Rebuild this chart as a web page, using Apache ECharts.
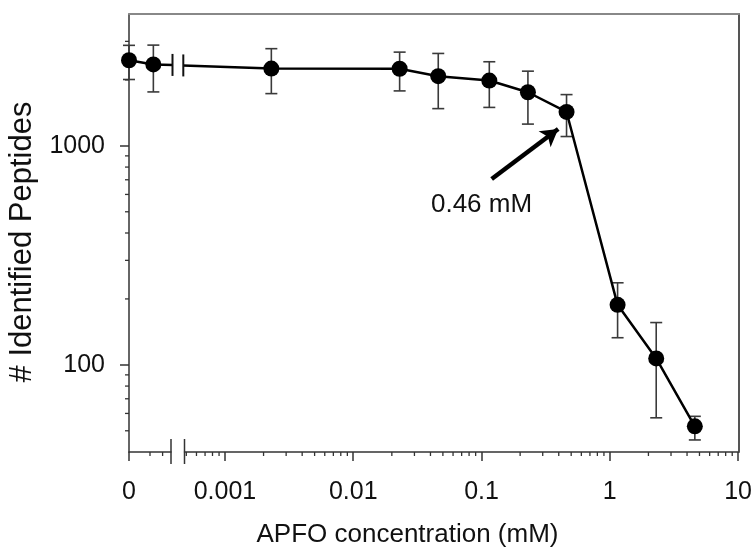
<!DOCTYPE html>
<html><head><meta charset="utf-8">
<script src="https://cdn.jsdelivr.net/npm/echarts@6/dist/echarts.min.js"></script>
<style>html,body{margin:0;padding:0;background:#fff}#c{width:755px;height:553px}</style>
</head><body><div id="c"></div>
<script>
// ---- data ----
// points placed on the linear "zero" segment left of the axis break
const zeroSegX = [0, 0.00029];
const zeroSegY = [2460, 2353];
const zeroSegLow = [2009, 1763];
const zeroSegHigh = [2877, 2884];
// APFO concentrations (mM) on the log segment
const concX = [0.0023, 0.023, 0.046, 0.115, 0.23, 0.46, 1.15, 2.3, 4.6];
const peptides = [2254, 2249, 2080, 1987, 1757, 1428, 188, 107, 52.4];
const errLow = [1732, 1782, 1479, 1498, 1257, 1103, 133, 57.3, 45.4];
const errHigh = [2778, 2679, 2642, 2421, 2193, 1714, 237, 156, 58.2];
// axes / ticks
const xTickLabels = ['0.001', '0.01', '0.1', '1', '10'];
const yTickLabels = ['100', '1000'];
const yMinorTicks = [50, 60, 70, 80, 90, 200, 300, 400, 500, 600, 700, 800, 900, 2000, 3000];
const xMinorMult = [2, 3, 4, 5, 6, 7, 8, 9];
const xMinorDecades = [0.0001, 0.001, 0.01, 0.1, 1];
const zeroMinorTicks = [0.00025, 0.0004];
const annotText = '0.46 mM';
const annotTextAt = [0.1, 540];
const arrowFrom = [0.12, 706];
const arrowTo = [0.396, 1193];

const FONT = 'Liberation Sans, Arial, Helvetica, sans-serif';
const AX = '#333';
const Y_MIN = 40, Y_MAX = 4000;
const ZERO_MAX = 0.0005, LOG_MIN = 0.000484, LOG_MAX = 10;

const xMinorTicks = [];
xMinorDecades.forEach(d => xMinorMult.forEach(m => {
  const v = d * m;
  if (v > LOG_MIN && v < LOG_MAX) xMinorTicks.push(v);
}));

function line(x1, y1, x2, y2, color, w) {
  return { type: 'line', shape: { x1, y1, x2, y2 }, style: { stroke: color, lineWidth: w } };
}
function errRender(params, api) {
  const x = api.value(0);
  const lo = api.coord([x, api.value(1)]);
  const hi = api.coord([x, api.value(2)]);
  const h = 6;
  return { type: 'group', children: [
    line(lo[0], lo[1], hi[0], hi[1], '#3a3a3a', 1.6),
    line(lo[0] - h, lo[1], lo[0] + h, lo[1], '#3a3a3a', 1.6),
    line(hi[0] - h, hi[1], hi[0] + h, hi[1], '#3a3a3a', 1.6)
  ]};
}
function xTickRender(params, api) {
  const p = api.coord([api.value(0), Y_MIN]);
  return line(p[0], p[1], p[0], p[1] + 4, AX, 1.3);
}
function yTickRender(params, api) {
  const p = api.coord([0, api.value(0)]);
  return line(p[0] - 4, p[1], p[0], p[1], AX, 1.3);
}
function breakRender(side) {
  return function (params, api) {
    const cs = params.coordSys;
    const a = api.coord([zeroSegX[1], zeroSegY[1]]);
    const b = api.coord([concX[0], peptides[0]]);
    const xe = side === 'right' ? cs.x + cs.width + 1.5 : cs.x - 1.2;
    const ye = a[1] + (b[1] - a[1]) * (xe - a[0]) / (b[0] - a[0]);
    const xb = side === 'right' ? cs.x + cs.width : cs.x;
    const bottom = cs.y + cs.height;
    return { type: 'group', children: [
      line(xe, ye - 11, xe, ye + 11, '#111', 2),
      line(xb, bottom - 13, xb, bottom + 12, AX, 1.5)
    ]};
  };
}

const grids = [
  { left: 129, width: 42, top: 14, height: 438 },
  { left: 184.5, right: 16, top: 14, height: 438 },
  { left: 129, right: 16, top: 14, height: 438 }
];

const labelStyle = { fontSize: 25, color: '#111', fontFamily: FONT };
const xLabelStyle = { fontSize: 25, color: '#111', fontFamily: FONT, margin: 28 };

const option = {
  animation: false,
  backgroundColor: '#fff',
  grid: grids,
  xAxis: [
    { gridIndex: 0, type: 'value', min: 0, max: ZERO_MAX, interval: ZERO_MAX,
      axisLine: { onZero: false, lineStyle: { color: AX, width: 1.5 } },
      axisTick: { length: 9, lineStyle: { color: AX, width: 1.5 } },
      axisLabel: Object.assign({ showMaxLabel: false,
        formatter: v => (v === 0 ? '0' : '') }, xLabelStyle),
      splitLine: { show: false } },
    { gridIndex: 1, type: 'log', logBase: 10, min: LOG_MIN, max: LOG_MAX,
      axisLine: { onZero: false, lineStyle: { color: AX, width: 1.5 } },
      axisTick: { length: 9, lineStyle: { color: AX, width: 1.5 } },
      axisLabel: Object.assign({ showMinLabel: false,
        formatter: v => {
          const l = Math.log10(v), r = Math.round(l);
          if (Math.abs(l - r) > 1e-6) return '';
          const i = r + 3;
          return xTickLabels[i] || '';
        } }, xLabelStyle),
      splitLine: { show: false } },
    { gridIndex: 2, type: 'value', position: 'top', min: 0, max: 1,
      axisLine: { onZero: false, lineStyle: { color: '#888', width: 2 } },
      axisTick: { show: false }, axisLabel: { show: false }, splitLine: { show: false } }
  ],
  yAxis: [
    { gridIndex: 0, type: 'log', logBase: 10, min: Y_MIN, max: Y_MAX,
      axisLine: { lineStyle: { color: AX, width: 1.5 } },
      axisTick: { length: 9, lineStyle: { color: AX, width: 1.5 } },
      axisLabel: Object.assign({ margin: 24, showMinLabel: false, showMaxLabel: false,
        formatter: v => {
          const s = String(Math.round(v));
          return yTickLabels.indexOf(s) >= 0 ? s : '';
        } }, labelStyle),
      splitLine: { show: false } },
    { gridIndex: 1, type: 'log', logBase: 10, min: Y_MIN, max: Y_MAX, show: false,
      splitLine: { show: false } },
    { gridIndex: 2, type: 'value', position: 'right', min: 0, max: 1,
      axisLine: { onZero: false, lineStyle: { color: '#555', width: 2 } },
      axisTick: { show: false }, axisLabel: { show: false }, splitLine: { show: false } }
  ],
  series: [
    { type: 'custom', xAxisIndex: 0, yAxisIndex: 0, z: 2, renderItem: errRender,
      encode: { x: 0, y: [1, 2] },
      data: zeroSegX.map((x, i) => [x, zeroSegLow[i], zeroSegHigh[i]]) },
    { type: 'custom', xAxisIndex: 1, yAxisIndex: 1, z: 2, renderItem: errRender,
      encode: { x: 0, y: [1, 2] },
      data: concX.map((x, i) => [x, errLow[i], errHigh[i]]) },
    { type: 'line', xAxisIndex: 0, yAxisIndex: 0, z: 3, clip: true,
      symbol: 'circle', symbolSize: 16,
      itemStyle: { color: '#000' }, lineStyle: { color: '#000', width: 2.5 },
      data: zeroSegX.map((x, i) => [x, zeroSegY[i]])
        .concat([{ value: [concX[0], peptides[0]], symbolSize: 0 }]) },
    { type: 'line', xAxisIndex: 1, yAxisIndex: 1, z: 3, clip: true,
      symbol: 'circle', symbolSize: 16,
      itemStyle: { color: '#000' }, lineStyle: { color: '#000', width: 2.5 },
      data: [{ value: [zeroSegX[1], zeroSegY[1]], symbolSize: 0 }]
        .concat(concX.map((x, i) => [x, peptides[i]])),
      markLine: { silent: true, symbol: ['none', 'arrow'], symbolSize: [15, 17],
        lineStyle: { color: '#000', width: 4.5, type: 'solid' }, label: { show: false },
        data: [[{ coord: arrowFrom }, { coord: arrowTo }]] },
      markPoint: { silent: true, symbol: 'rect', symbolSize: 1,
        itemStyle: { color: 'rgba(0,0,0,0)' },
        label: Object.assign({ show: true, position: 'inside', formatter: annotText }, labelStyle, { fontSize: 26 }),
        data: [{ coord: annotTextAt }] } },
    { type: 'custom', xAxisIndex: 1, yAxisIndex: 1, z: 4, renderItem: xTickRender,
      encode: { x: 0 }, data: xMinorTicks.map(v => [v]) },
    { type: 'custom', xAxisIndex: 0, yAxisIndex: 0, z: 4, renderItem: xTickRender,
      encode: { x: 0 }, data: zeroMinorTicks.map(v => [v]) },
    { type: 'custom', xAxisIndex: 0, yAxisIndex: 0, z: 4, renderItem: yTickRender,
      encode: { y: 0 }, data: yMinorTicks.map(v => [v]) },
    { type: 'custom', xAxisIndex: 0, yAxisIndex: 0, z: 5, renderItem: breakRender('right'),
      data: [[zeroSegX[1], zeroSegY[1]]] },
    { type: 'custom', xAxisIndex: 1, yAxisIndex: 1, z: 5, renderItem: breakRender('left'),
      data: [[concX[0], peptides[0]]] }
  ],
  graphic: [
    { type: 'text', position: [407.5, 535],
      style: { text: 'APFO concentration (mM)', fontSize: 26, fill: '#111', fontFamily: FONT,
        align: 'center', verticalAlign: 'middle', x: 0, y: 0 } },
    { type: 'text', rotation: Math.PI / 2, position: [22, 242],
      style: { text: '# Identified Peptides', fontSize: 31, fill: '#111', fontFamily: FONT,
        align: 'center', verticalAlign: 'middle', x: 0, y: 0 } }
  ]
};

const chart = echarts.init(document.getElementById('c'), null, { renderer: 'canvas' });
chart.setOption(option);
</script>
</body></html>
